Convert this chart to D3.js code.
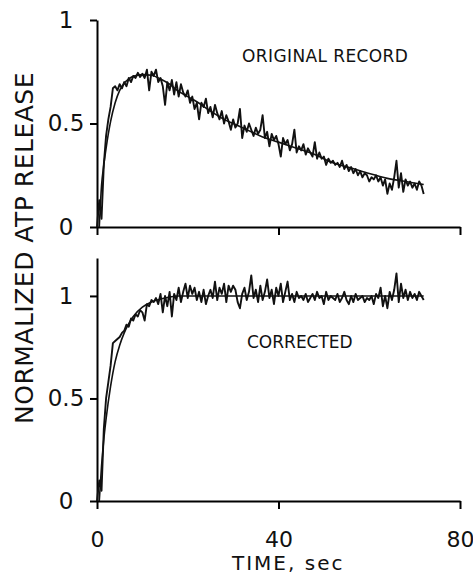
<!DOCTYPE html>
<html>
<head>
<meta charset="utf-8">
<script src="https://cdn.jsdelivr.net/npm/d3@7"></script>
<style>
  body { margin: 0; background: #fff; }
  svg text { font-family: "DejaVu Sans", sans-serif; fill: #111; }
</style>
</head>
<body>
<div id="chart"></div>
<script>
// ATP release, original record vs corrected (two stacked panels)
const xTicks = [0, 40, 80];
const yTicks = [0, 0.5, 1];
const sampleStep = 0.5; // record sampled every 0.5 sec

const originalRecord = [
  0.00, 0.13, 0.04, 0.30, 0.44, 0.52, 0.58, 0.67, 0.68, 0.66,
  0.69, 0.67, 0.70, 0.68, 0.72, 0.70, 0.73, 0.72, 0.745, 0.725,
  0.74, 0.72, 0.76, 0.66, 0.75, 0.73, 0.76, 0.70, 0.72, 0.68,
  0.59, 0.70, 0.66, 0.71, 0.64, 0.70, 0.63, 0.69, 0.65, 0.63,
  0.66, 0.60, 0.63, 0.57, 0.60, 0.52, 0.60, 0.58, 0.62, 0.55,
  0.58, 0.53, 0.59, 0.55, 0.52, 0.56, 0.50, 0.54, 0.51, 0.47,
  0.52, 0.48, 0.50, 0.57, 0.43, 0.49, 0.46, 0.50, 0.47, 0.44,
  0.48, 0.45, 0.47, 0.54, 0.43, 0.46, 0.39, 0.45, 0.42, 0.44,
  0.40, 0.34, 0.43, 0.40, 0.42, 0.37, 0.40, 0.47, 0.36, 0.39,
  0.37, 0.40, 0.35, 0.38, 0.36, 0.34, 0.41, 0.33, 0.36, 0.33,
  0.34, 0.30, 0.33, 0.31, 0.32, 0.30, 0.31, 0.29, 0.32, 0.28,
  0.30, 0.27, 0.29, 0.26, 0.28, 0.25, 0.27, 0.24, 0.26, 0.25,
  0.22, 0.24, 0.23, 0.25, 0.22, 0.24, 0.20, 0.23, 0.16, 0.21,
  0.18, 0.24, 0.32, 0.19, 0.26, 0.17, 0.23, 0.20, 0.22, 0.19,
  0.21, 0.18, 0.22, 0.20, 0.16
];

const originalFitT = [0.5, 1, 1.5, 2, 3, 4, 5, 6, 7, 8, 10, 12, 14, 16, 18, 20, 22, 25, 28, 30, 33, 36, 40, 44, 48, 52, 56, 60, 64, 68, 72];
const originalFitV = [0, 0.2, 0.3, 0.38, 0.51, 0.6, 0.66, 0.695, 0.715, 0.728, 0.736, 0.733, 0.715, 0.69, 0.655, 0.63, 0.605, 0.56, 0.52, 0.5, 0.47, 0.44, 0.41, 0.38, 0.35, 0.31, 0.285, 0.258, 0.235, 0.22, 0.205];

const correctedRecord = [
  0.00, 0.10, 0.05, 0.35, 0.50, 0.58, 0.66, 0.77, 0.78, 0.79,
  0.80, 0.82, 0.83, 0.86, 0.85, 0.89, 0.88, 0.91, 0.90, 0.93,
  0.92, 0.88, 0.96, 0.95, 0.98, 0.97, 0.99, 0.96, 1.01, 0.92,
  1.00, 0.95, 1.02, 0.90, 1.01, 0.98, 1.04, 0.97, 1.02, 1.06,
  0.99, 1.05, 1.01, 1.04, 0.98, 1.02, 0.97, 1.03, 0.96, 1.00,
  1.03, 0.99, 1.07, 0.98, 1.04, 1.01, 1.06, 0.97, 1.05, 1.02,
  1.05, 1.03, 0.97, 0.94, 1.01, 1.04, 0.98, 1.02, 1.10, 0.99,
  1.03, 0.97, 1.05, 0.98, 1.02, 1.08, 0.99, 1.03, 0.96, 1.04,
  1.00, 1.06, 0.97, 1.02, 1.07, 0.98, 1.01, 0.97, 1.02, 0.99,
  1.00, 0.98, 1.01, 0.97, 0.99, 1.01, 0.98, 1.02, 0.99, 1.00,
  0.96, 1.02, 0.98, 1.00, 0.99, 0.98, 1.01, 0.97, 0.99, 1.02,
  0.98, 0.96, 1.00, 0.97, 1.01, 0.98, 0.99, 1.00, 0.97, 0.99,
  0.98, 1.00, 0.96, 1.01, 0.99, 1.04, 0.95, 1.00, 0.94, 1.02,
  0.98, 1.03, 1.11, 0.97, 1.06, 0.99, 1.03, 0.98, 1.02, 0.99,
  1.01, 0.98, 1.02, 1.00, 0.98
];

const correctedFitT = [0.5, 1, 1.5, 2, 3, 4, 5, 6, 7, 8, 10, 12, 14, 16, 18, 20, 72];
const correctedFitV = [0, 0.17, 0.3, 0.4, 0.56, 0.68, 0.76, 0.82, 0.865, 0.9, 0.945, 0.97, 0.985, 0.995, 1, 1, 1];

const width = 473, height = 575;
const svg = d3.select('#chart').append('svg')
    .attr('width', width)
    .attr('height', height);

const x = d3.scaleLinear().domain([0, 80]).range([97, 460]);
const yTop = d3.scaleLinear().domain([0, 1]).range([227, 20]);
const yBot = d3.scaleLinear().domain([0, 1.185]).range([501, 258]);

function fmt(d) { return d === 0.5 ? '0.5' : String(d); }

function drawPanel(y, record, fitT, fitV, showXLabels) {
    const g = svg.append('g');

    const yAxis = g.append('g')
        .attr('transform', `translate(${x(0)},0)`)
        .call(d3.axisLeft(y).tickValues(yTicks).tickSize(7).tickSizeOuter(0).tickFormat(fmt));
    yAxis.select('.domain').attr('stroke-width', 2);
    yAxis.selectAll('.tick line').attr('stroke-width', 2);
    yAxis.selectAll('.tick text')
        .attr('x', -31)
        .attr('text-anchor', 'middle')
        .attr('font-size', 23)
        .attr('font-family', 'DejaVu Sans');

    const xAxis = g.append('g')
        .attr('transform', `translate(0,${y(0)})`)
        .call(d3.axisBottom(x).tickValues(xTicks).tickSize(8).tickSizeOuter(0)
            .tickFormat(showXLabels ? d3.format('d') : ''));
    xAxis.select('.domain').attr('stroke-width', 2);
    xAxis.selectAll('.tick line').attr('stroke-width', 2);
    xAxis.selectAll('.tick text')
        .attr('y', 30)
        .attr('dy', '0.71em')
        .attr('font-size', 22)
        .attr('font-family', 'DejaVu Sans');

    const recLine = d3.line()
        .x((d, i) => x(i * sampleStep))
        .y(d => y(d));
    g.append('path')
        .datum(record)
        .attr('d', recLine)
        .attr('fill', 'none')
        .attr('stroke', '#111')
        .attr('stroke-width', 1.9)
        .attr('stroke-linejoin', 'round');

    const fitLine = d3.line()
        .x(d => x(d[0]))
        .y(d => y(d[1]))
        .curve(d3.curveMonotoneX);
    g.append('path')
        .datum(fitT.map((t, i) => [t, fitV[i]]))
        .attr('d', fitLine)
        .attr('fill', 'none')
        .attr('stroke', '#111')
        .attr('stroke-width', 1.6);
}

drawPanel(yTop, originalRecord, originalFitT, originalFitV, false);
drawPanel(yBot, correctedRecord, correctedFitT, correctedFitV, true);

// panel labels
svg.append('text')
    .attr('x', 242).attr('y', 62)
    .attr('font-size', 17)
    .attr('letter-spacing', 0.4)
    .text('ORIGINAL RECORD');

svg.append('text')
    .attr('x', 247).attr('y', 348)
    .attr('font-size', 17)
    .text('CORRECTED');

// axis titles
svg.append('text')
    .attr('x', 232).attr('y', 570)
    .attr('font-size', 20)
    .attr('letter-spacing', 2)
    .text('TIME, sec');

svg.append('text')
    .attr('transform', 'translate(33,248) rotate(-90)')
    .attr('text-anchor', 'middle')
    .attr('font-size', 25)
    .attr('letter-spacing', 0.5)
    .text('NORMALIZED ATP RELEASE');
</script>
</body>
</html>
